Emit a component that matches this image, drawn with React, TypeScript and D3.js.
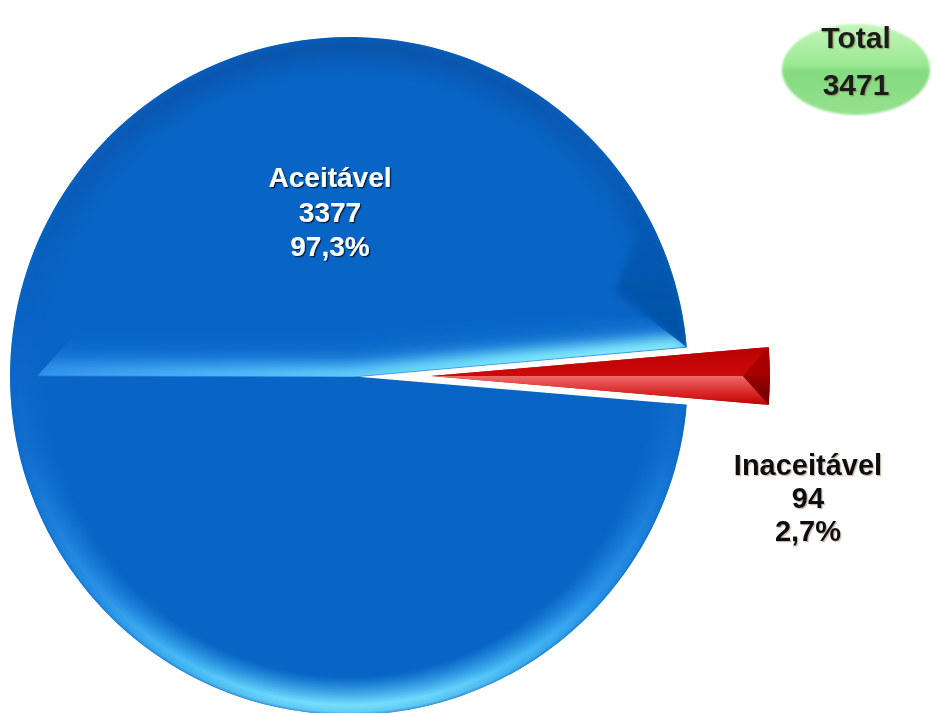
import React from "react";
import * as d3 from "d3";

const categories = ["Aceitável", "Inaceitável"];
const values = [3377, 94];
const percentLabels = ["97,3%", "2,7%"];
const totalTitle = "Total";

const W = 932;
const H = 713;
const CX = 349;
const CY = 376;
const R = 339;
const EXPLODE = 82;
const FONT = "'Liberation Sans', Arial, sans-serif";

type P = [number, number];

export default function App() {
  const total = d3.sum(values);
  const redSpan = (2 * Math.PI * values[1]) / total;
  const start = Math.PI / 2 + redSpan / 2;
  const pie = d3
    .pie<number>()
    .sort(null)
    .value((d) => d)
    .startAngle(start)
    .endAngle(start + 2 * Math.PI);
  const arcs = pie(values);
  const arcGen = d3
    .arc<d3.PieArcDatum<number>>()
    .innerRadius(0)
    .outerRadius(R);
  const pt = (a: number, rho: number): P => [rho * Math.sin(a), -rho * Math.cos(a)];
  const poly = (pts: P[]) => "M" + pts.map((p) => p.join(",")).join("L") + "Z";
  const line = (pts: P[]) => "M" + pts.map((p) => p.join(",")).join("L");

  const blue = arcs[0];
  const red = arcs[1];
  const redMid = (red.startAngle + red.endAngle) / 2;
  const rdx = Math.sin(redMid) * EXPLODE;
  const rdy = -Math.cos(redMid) * EXPLODE;

  // blue slice geometry
  const P4 = pt(blue.endAngle, R);
  const O: P = [4, 1];
  const A: P = [-312, 0];
  const B: P = [-277, -38];
  const D: P = [266, -84];
  const topY = -215;
  const wedgePts: P[] = [P4, D, [286, -140], [Math.sqrt(R * R - topY * topY) - 6, topY]];
  {
    const a0 = Math.atan2(topY, Math.sqrt(R * R - topY * topY));
    const a1 = Math.atan2(P4[1], P4[0]);
    const n = 20;
    for (let i = 0; i <= n; i++) {
      const a = a0 + ((a1 - a0) * i) / n;
      wedgePts.push([R * Math.cos(a), R * Math.sin(a)]);
    }
  }

  // red slice geometry (local to tip)
  const T: P = [0, 0];
  const U = pt(red.startAngle, R);
  const L = pt(red.endAngle, R);
  const M = pt(redMid, R - 27);
  const RM = pt(redMid, R);

  const whiteLabel = [categories[0], String(values[0]), percentLabels[0]];
  const darkLabel = [categories[1], String(values[1]), percentLabels[1]];

  return (
    <svg
      width={W}
      height={H}
      viewBox={`0 0 ${W} ${H}`}
      style={{ position: "absolute", left: 0, top: 0, background: "#fff" }}
    >
      <defs>
        <linearGradient id="rimLin" gradientUnits="userSpaceOnUse" x1="0" y1={-R} x2="0" y2={R}>
          <stop offset="0" stopColor="#0a55ac" />
          <stop offset="0.4" stopColor="#0962c2" />
          <stop offset="0.62" stopColor="#1270d0" />
          <stop offset="0.82" stopColor="#2a94e8" />
          <stop offset="0.93" stopColor="#4cc0f8" />
          <stop offset="1" stopColor="#80e8ff" />
        </linearGradient>
        <radialGradient id="rimRad" gradientUnits="userSpaceOnUse" cx="0" cy="0" r={R}>
          <stop offset="0" stopColor="#000" />
          <stop offset={(R - 38) / R} stopColor="#000" />
          <stop offset={(R - 10) / R} stopColor="#fff" />
          <stop offset={(R - 3) / R} stopColor="#ccc" />
          <stop offset="1" stopColor="#666" />
        </radialGradient>
        <mask id="rimMask" maskUnits="userSpaceOnUse" x={-R} y={-R} width={2 * R} height={2 * R}>
          <circle r={R} fill="url(#rimRad)" />
        </mask>
        <linearGradient id="glowStroke" gradientUnits="userSpaceOnUse" x1={-311} y1="0" x2="330" y2="0">
          <stop offset="0" stopColor="#3596ee" />
          <stop offset="0.4" stopColor="#5cc8fc" />
          <stop offset="0.75" stopColor="#80eeff" />
          <stop offset="1" stopColor="#8af2ff" />
        </linearGradient>
        <linearGradient id="wedgeGrad" gradientUnits="userSpaceOnUse" x1="0" y1={-29} x2="0" y2={topY}>
          <stop offset="0" stopColor="#0550a2" stopOpacity="1" />
          <stop offset="0.35" stopColor="#0552a6" stopOpacity="0.75" />
          <stop offset="1" stopColor="#0652a8" stopOpacity="0" />
        </linearGradient>
        <clipPath id="bandClip">
          <path d={poly([A, B, [-245, -75], [250, -140], D, P4, O])} />
        </clipPath>
        <clipPath id="blueClip">
          <path d={arcGen(blue) || ""} />
        </clipPath>
        <filter id="blur8" x="-20%" y="-100%" width="140%" height="300%">
          <feGaussianBlur stdDeviation="7" />
        </filter>
        <filter id="blur16" x="-20%" y="-100%" width="140%" height="300%">
          <feGaussianBlur stdDeviation="11" />
        </filter>
        <filter id="blur3" x="-30%" y="-30%" width="160%" height="160%">
          <feGaussianBlur stdDeviation="3.5" />
        </filter>
        <linearGradient id="redLow" gradientUnits="userSpaceOnUse" x1="0" y1="0" x2="0" y2="29">
          <stop offset="0" stopColor="#ef6a6a" />
          <stop offset="0.5" stopColor="#dc3030" />
          <stop offset="1" stopColor="#c00000" />
        </linearGradient>
        <linearGradient id="redUp" gradientUnits="userSpaceOnUse" x1="0" y1="-29" x2="0" y2="0">
          <stop offset="0" stopColor="#b80000" />
          <stop offset="1" stopColor="#cc0a0a" />
        </linearGradient>
        <linearGradient id="redEnd" gradientUnits="userSpaceOnUse" x1="0" y1="0" x2="0" y2="29">
          <stop offset="0" stopColor="#9c0000" />
          <stop offset="1" stopColor="#6a0000" />
        </linearGradient>
        <linearGradient id="badge" x1="0" y1="0" x2="0" y2="1">
          <stop offset="0" stopColor="#c4f6ba" />
          <stop offset="0.45" stopColor="#9be893" />
          <stop offset="0.52" stopColor="#84da7e" />
          <stop offset="1" stopColor="#96e28f" />
        </linearGradient>
        <filter id="soft" x="-10%" y="-10%" width="120%" height="120%">
          <feGaussianBlur stdDeviation="1.2" />
        </filter>
        <filter id="shWhite" x="-10%" y="-30%" width="120%" height="160%">
          <feDropShadow dx="1.3" dy="1.3" stdDeviation="0.6" floodColor="#000" floodOpacity="0.7" />
        </filter>
        <filter id="shDark" x="-10%" y="-30%" width="120%" height="160%">
          <feDropShadow dx="1.2" dy="1.2" stdDeviation="0.6" floodColor="#7a4a3a" floodOpacity="0.4" />
        </filter>
      </defs>

      <g transform={`translate(${CX},${CY})`}>
        {/* Aceitável slice */}
        <path d={arcGen(blue) || ""} fill="#0865c6" />
        <path d={arcGen(blue) || ""} fill="url(#rimLin)" mask="url(#rimMask)" />
        {/* darker rim on the upper right */}
        <g clipPath="url(#blueClip)">
          <path d={poly(wedgePts)} fill="url(#wedgeGrad)" filter="url(#blur3)" />
        </g>
        {/* lit bevel band along the upper edge */}
        <g clipPath="url(#bandClip)">
          <path d={line([A, O, P4])} fill="none" stroke="#2f96ee" strokeWidth={44} strokeOpacity={0.55} filter="url(#blur16)" />
          <path d={line([A, O, P4])} fill="none" stroke="url(#glowStroke)" strokeWidth={22} filter="url(#blur8)" />
        </g>
        <path d={line([A, O, P4])} fill="none" stroke="#1a6fd0" strokeWidth={1} strokeOpacity={0.6} />

        {/* Inaceitável slice, exploded */}
        <g transform={`translate(${rdx},${rdy})`}>
          <path d={arcGen(red) || ""} fill="#c40000" />
          <path d={poly([T, U, M])} fill="url(#redUp)" />
          <path d={poly([T, M, L])} fill="url(#redLow)" />
          <path d={poly([M, U, RM])} fill="#a80000" />
          <path d={poly([M, RM, L])} fill="url(#redEnd)" />
        </g>
      </g>

      {/* labels */}
      <g fontFamily={FONT} fontWeight="bold" textAnchor="middle">
        <g fill="#ffffff" fontSize={28} filter="url(#shWhite)">
          {whiteLabel.map((t, i) => (
            <text key={t} x={330} y={187 + i * 34.5}>
              {t}
            </text>
          ))}
        </g>
        <g fill="#111111" fontSize={29} filter="url(#shDark)">
          {darkLabel.map((t, i) => (
            <text key={t} x={808} y={475 + i * 33}>
              {t}
            </text>
          ))}
        </g>
      </g>

      {/* Total badge */}
      <ellipse cx={856} cy={69.5} rx={74} ry={45.5} fill="url(#badge)" filter="url(#soft)" />
      <g fontFamily={FONT} fontWeight="bold" textAnchor="middle" fill="#1a1a1a" fontSize={30} filter="url(#shDark)">
        <text x={856} y={48}>
          {totalTitle}
        </text>
        <text x={856} y={95}>
          {String(total)}
        </text>
      </g>
    </svg>
  );
}
